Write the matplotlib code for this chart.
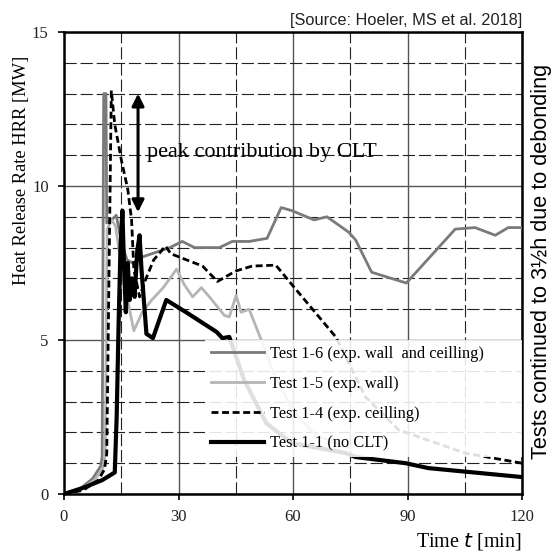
import matplotlib
matplotlib.use("Agg")
import matplotlib.pyplot as plt
from matplotlib.ticker import MultipleLocator

# ---------------- data ----------------
t_16 = [0, 4, 7.5, 9.6, 10.0, 10.4, 11.0, 11.2, 12.5, 13.7, 15.0, 16.5, 18.0, 20.6, 27.7, 31.0,
        34.2, 40.7, 44.1, 48.5, 53.2, 56.9, 59.7, 65.5, 68.9, 74.6, 76.4, 80.6, 89.7,
        102.5, 107.7, 113.0, 116.4, 120]
hrr_16 = [0, 0.15, 0.5, 0.9, 1.2, 13.0, 13.0, 8.8, 8.9, 9.05, 8.2, 7.6, 7.5, 7.7, 8.0, 8.2,
          8.0, 8.0, 8.2, 8.2, 8.3, 9.3, 9.2, 8.9, 9.0, 8.5, 8.25, 7.2, 6.85,
          8.6, 8.65, 8.4, 8.65, 8.65]

t_15 = [0, 4, 8, 10.2, 10.8, 11.3, 12.5, 13.5, 15.5, 18.3, 20.5, 23, 26, 29.5, 31.5, 33.7,
        36.0, 38.1, 42.0, 43.3, 45.1, 46.4, 48.5, 51.7, 55, 60, 66, 75]
hrr_15 = [0, 0.12, 0.45, 0.85, 1.3, 8.6, 8.9, 8.7, 7.0, 5.3, 5.9, 6.3, 6.7, 7.3, 6.8, 6.4,
          6.7, 6.4, 5.8, 5.75, 6.45, 5.9, 6.0, 5.0, 3.9, 2.7, 1.9, 1.5]

t_14 = [0, 5, 9, 10.6, 11.2, 12.4, 13.3, 15.1, 16.7, 17.7, 18.3, 19.8, 21.5, 23.5, 26.6, 28.0,
        36.3, 40.2, 45.0, 49.3, 55.5, 59.7, 71.2, 79.0, 87.7, 105.0, 120]
hrr_14 = [0, 0.12, 0.45, 0.8, 1.3, 13.1, 12.0, 10.8, 9.9, 8.9, 7.3, 6.4, 7.0, 7.6, 8.05, 7.8,
          7.4, 6.9, 7.24, 7.4, 7.43, 6.8, 5.1, 3.15, 2.08, 1.33, 1.0]

t_11 = [0, 5, 10, 13.3, 13.8, 14.3, 14.8, 15.3, 15.7, 16.2, 16.7, 17.2, 17.8, 18.5, 19.2, 19.8,
        20.3, 21.6, 23.3, 26.8, 32.0, 40.0, 41.5, 43.3, 47.2, 53.0, 59.7, 73.8, 76.4, 89.5,
        95.5, 120]
hrr_11 = [0, 0.2, 0.45, 0.7, 2.5, 5.5, 8.0, 9.2, 7.5, 5.9, 7.5, 6.3, 7.0, 6.4, 7.9, 8.4,
          7.3, 5.2, 5.06, 6.3, 5.9, 5.26, 5.06, 5.1, 3.7, 2.3, 1.65, 1.33, 1.2, 1.0,
          0.84, 0.55]

labels = ["Test 1-6 (exp. wall  and ceilling)", "Test 1-5 (exp. wall)",
          "Test 1-4 (exp. ceilling)", "Test 1-1 (no CLT)"]

x_ticks = [0, 30, 60, 90, 120]
y_ticks = [0, 5, 10, 15]

arrow_t = 19.4
arrow_top = 13.0
arrow_bottom = 9.15
note_t, note_hrr = 21.7, 11.1

# ---------------- figure ----------------
serif = ["Liberation Serif", "DejaVu Serif"]
sans = ["Liberation Sans", "DejaVu Sans"]

fig = plt.figure(figsize=(5.52, 5.51), dpi=100)
ax = fig.add_axes([64 / 552, 1 - 494 / 551, (522 - 64) / 552, (494 - 32) / 551])

ax.set_xlim(0, 120)
ax.set_ylim(0, 15)
ax.set_xticks(x_ticks)
ax.set_yticks(y_ticks)
ax.xaxis.set_minor_locator(MultipleLocator(15))
ax.yaxis.set_minor_locator(MultipleLocator(1))

ax.grid(which="major", color="#555555", linewidth=1.0, linestyle="-", zorder=0)
ax.grid(which="minor", color="#222222", linewidth=0.8, linestyle=(0, (11, 3.5)), zorder=0)
ax.set_axisbelow(True)

ax.tick_params(which="major", direction="out", length=4, width=1.2, pad=7,
               labelsize=12)
ax.tick_params(which="minor", length=0)
for lab in ax.get_xticklabels() + ax.get_yticklabels():
    lab.set_family(serif)
    lab.set_color("#222222")

for s in ax.spines.values():
    s.set_linewidth(1.8)
    s.set_color("black")

l6, = ax.plot(t_16, hrr_16, color="#7a7a7a", lw=2.0, label=labels[0], zorder=3)
l5, = ax.plot(t_15, hrr_15, color="#b5b5b5", lw=2.0, label=labels[1], zorder=3)
l4, = ax.plot(t_14, hrr_14, color="black", lw=2.0, linestyle=(0, (2.5, 1.3)),
              label=labels[2], zorder=4)
l1, = ax.plot(t_11, hrr_11, color="black", lw=3.0, label=labels[3], zorder=5)

leg_x0 = (205 - 64) / 458
leg = ax.legend(handles=[l6, l5, l4, l1], loc="upper left", mode="expand",
                bbox_to_anchor=(leg_x0, 0.0, 1 - leg_x0, 1 / 3),
                prop={"family": serif, "size": 11.8},
                frameon=True, framealpha=0.88, edgecolor="none", fancybox=False,
                handlelength=3.23, handletextpad=0.37, labelspacing=0.85,
                borderpad=0.35, borderaxespad=0.0)
leg.get_frame().set_facecolor("white")
leg.set_zorder(6)

ax.annotate("", xy=(arrow_t, arrow_top), xytext=(arrow_t, arrow_bottom),
            arrowprops=dict(arrowstyle="<|-|>", color="black", lw=2.2,
                            mutation_scale=18, shrinkA=0, shrinkB=0), zorder=7)
ax.text(note_t, note_hrr, "peak contribution by CLT", family=serif, fontsize=16,
        ha="left", va="center", zorder=7)

fig.text(22 / 552, 1 - 170 / 551, "Heat Release Rate HRR [MW]", family=serif,
         fontsize=13.3, rotation=90, ha="center", va="center")
fig.text(522 / 552, 1 - 541 / 551, "Time $\\it{t}$ [min]", family=serif, fontsize=14.5,
         ha="right", va="center")
fig.text(522 / 552, 1 - 20 / 551, "[Source: Hoeler, MS et al. 2018]", family=sans,
         fontsize=11.8, ha="right", va="center", color="#222222")
fig.text(542 / 552, 1 - 261 / 551, "Tests continued to 3½h due to debonding", family=sans,
         fontsize=15.6, rotation=90, ha="center", va="center")

fig.savefig("out.png", dpi=100, facecolor="white")
